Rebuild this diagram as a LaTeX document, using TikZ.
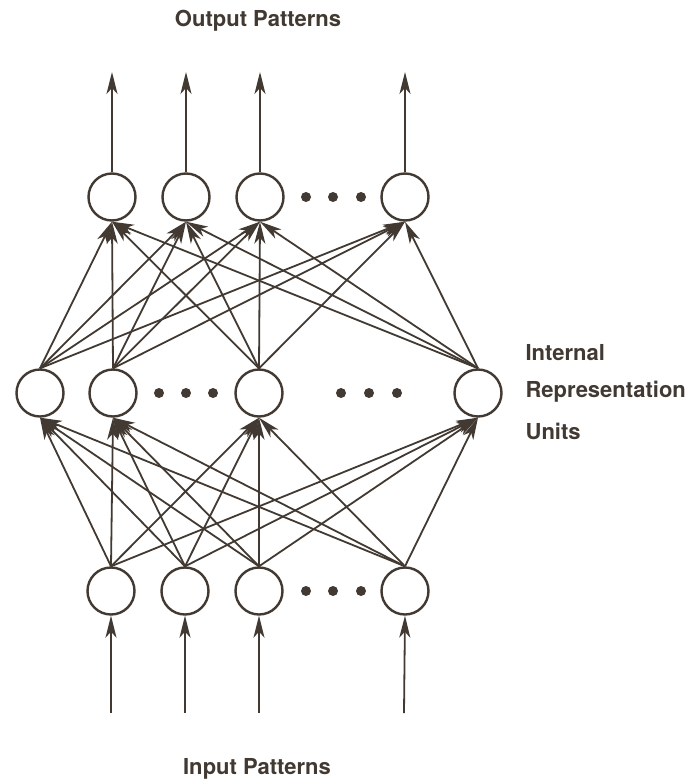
\documentclass[tikz,border=0pt]{standalone}
\usepackage{fontspec}
\setmainfont{TeX Gyre Heros}
\usetikzlibrary{arrows.meta}
\definecolor{ink}{RGB}{66,58,50}
\tikzset{
  unit/.style={circle,draw=ink,line width=2.4pt,minimum size=47pt,inner sep=0pt,fill=white},
  conn/.style={draw=ink,line width=1.8pt,-{Stealth[length=22pt,width=11pt,inset=6pt]}},
  dotm/.style={circle,fill=ink,inner sep=0pt,minimum size=10pt},
  lab/.style={text=ink,font=\bfseries\fontsize{22}{26}\selectfont}
}
\begin{document}
\begin{tikzpicture}[x=1pt,y=-1pt]
\useasboundingbox[fill=white] (0,0) rectangle (695,782);
% output units
\node[unit] (o1) at (112,197) {};
\node[unit] (o2) at (186,197) {};
\node[unit] (o3) at (260,197) {};
\node[unit] (o4) at (405,197) {};
% hidden units
\node[unit] (h1) at (40,393) {};
\node[unit] (h2) at (113,393) {};
\node[unit] (h3) at (259,393) {};
\node[unit] (h4) at (478,393) {};
% input units
\node[unit] (i1) at (111,591) {};
\node[unit] (i2) at (185,591) {};
\node[unit] (i3) at (259,591) {};
\node[unit] (i4) at (405,591) {};
% dots
\foreach \x/\n in {306/a,333/b,361/c}{\node[dotm] (od\n) at (\x,197) {};}
\foreach \x/\n in {159/a,186/b,213/c,341/d,369/e,397/f}{\node[dotm] (hd\n) at (\x,393) {};}
\foreach \x/\n in {306/a,333/b,361/c}{\node[dotm] (id\n) at (\x,591) {};}
% connections
\foreach \a in {1,2,3,4}{
  \foreach \b in {1,2,3,4}{
    \draw[conn] (i\a.north) -- (h\b.south);
    \draw[conn] (h\a.north) -- (o\b.south);
  }
}
% output arrows
\foreach \k/\x in {1/112,2/186,3/260,4/405}{
  \coordinate (ot\k) at (\x,72);
  \draw[conn] (o\k.north) -- (ot\k);
  \coordinate (ib\k) at (\x-1,713);
}
\foreach \k in {1,2,3,4}{\draw[conn] (ib\k) -- (i\k.south);}
% labels
\node[lab] (tout) at (258,21) {Output Patterns};
\node[lab] (tin) at (257,769) {Input Patterns};
\node[lab,anchor=west] (t1) at (522,353) {Internal};
\node[lab,anchor=west] (t2) at (522,392) {Representation};
\node[lab,anchor=west] (t3) at (522,431) {Units};
\end{tikzpicture}
\end{document}
